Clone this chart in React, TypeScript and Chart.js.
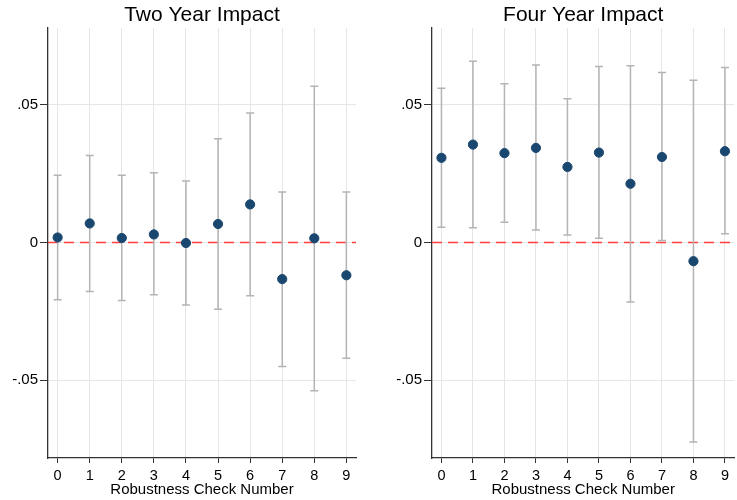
import React, { useEffect, useRef } from 'react';
import { Chart, registerables } from 'chart.js';

Chart.register(...registerables);

// ---- data ----
const checks = [0, 1, 2, 3, 4, 5, 6, 7, 8, 9];
const yTicks = [-0.05, 0, 0.05];
const xAxisTitle = 'Robustness Check Number';

const twoYearTitle = 'Two Year Impact';
const twoYearEst = [0.0018, 0.0069, 0.0016, 0.0029, -0.0002, 0.0067, 0.0138, -0.0133, 0.0015, -0.0119];
const twoYearLo = [-0.0208, -0.0178, -0.0211, -0.019, -0.0227, -0.0242, -0.0193, -0.045, -0.0538, -0.042];
const twoYearHi = [0.0244, 0.0315, 0.0244, 0.0253, 0.0223, 0.0376, 0.047, 0.0183, 0.0567, 0.0183];

const fourYearTitle = 'Four Year Impact';
const fourYearEst = [0.0307, 0.0355, 0.0324, 0.0343, 0.0274, 0.0326, 0.0213, 0.031, -0.0068, 0.0331];
const fourYearLo = [0.0055, 0.0053, 0.0073, 0.0045, 0.0027, 0.0015, -0.0216, 0.0007, -0.0724, 0.0032];
const fourYearHi = [0.0559, 0.0657, 0.0576, 0.0644, 0.0521, 0.0638, 0.0641, 0.0617, 0.0588, 0.0635];

const FONT = "'Liberation Sans', Arial, Helvetica, sans-serif";

function fmtTick(v: number): string {
  if (v === 0) return '0';
  const s = String(Math.abs(v)).replace(/^0/, '');
  return (v < 0 ? '-' : '') + s;
}

type PanelProps = {
  title: string;
  est: number[];
  lo: number[];
  hi: number[];
  left: number;
  yAxisWidth: number;
  padRight: number;
};

function Panel({ title, est, lo, hi, left, yAxisWidth, padRight }: PanelProps) {
  const ref = useRef<HTMLCanvasElement | null>(null);

  useEffect(() => {
    const canvas = ref.current;
    if (!canvas) return;

    const decor = {
      id: 'decor',
      beforeDatasetsDraw(chart: any) {
        const { ctx, chartArea } = chart;
        const xs = chart.scales.x;
        const ys = chart.scales.y;
        ctx.save();
        // zero reference line
        const y0 = ys.getPixelForValue(0);
        ctx.strokeStyle = '#ff4040';
        ctx.lineWidth = 1.6;
        ctx.setLineDash([10, 6]);
        ctx.beginPath();
        ctx.moveTo(chartArea.left, y0);
        ctx.lineTo(chartArea.right, y0);
        ctx.stroke();
        ctx.setLineDash([]);
        // error bars
        ctx.strokeStyle = '#b4b4b4';
        ctx.lineWidth = 1.5;
        checks.forEach((c, i) => {
          const x = xs.getPixelForValue(c);
          const yl = ys.getPixelForValue(lo[i]);
          const yh = ys.getPixelForValue(hi[i]);
          ctx.beginPath();
          ctx.moveTo(x, yl);
          ctx.lineTo(x, yh);
          ctx.moveTo(x - 4, yl);
          ctx.lineTo(x + 4, yl);
          ctx.moveTo(x - 4, yh);
          ctx.lineTo(x + 4, yh);
          ctx.stroke();
        });
        ctx.restore();
      },
      afterDraw(chart: any) {
        const { ctx, chartArea } = chart;
        ctx.save();
        ctx.fillStyle = '#000';
        ctx.font = `21px ${FONT}`;
        ctx.textAlign = 'center';
        ctx.textBaseline = 'middle';
        ctx.fillText(title, (chartArea.left + chartArea.right) / 2, 15);
        ctx.restore();
      },
    };

    const chart = new Chart(canvas, {
      type: 'scatter',
      data: {
        datasets: [
          {
            data: checks.map((c, i) => ({ x: c, y: est[i] })),
            backgroundColor: '#1a476f',
            borderColor: '#1a476f',
            pointRadius: 4.6,
            pointHoverRadius: 4.6,
            showLine: false,
          },
        ],
      },
      options: {
        responsive: false,
        animation: false,
        events: [],
        layout: { padding: { top: 28, right: padRight, left: 0, bottom: 0 } },
        plugins: {
          legend: { display: false },
          tooltip: { enabled: false },
          title: { display: false },
        },
        scales: {
          x: {
            type: 'linear',
            min: -0.3,
            max: 9.3,
            afterBuildTicks: (s: any) => {
              s.ticks = checks.map((v) => ({ value: v }));
            },
            afterFit: (s: any) => {
              s.height = 42;
            },
            grid: { color: '#e6e6e6', lineWidth: 1, tickLength: 5, tickColor: '#333', drawTicks: true },
            border: { display: true, color: '#333', width: 1.3 },
            ticks: {
              color: '#000',
              font: { family: FONT, size: 14.5 },
              padding: 4,
              autoSkip: false,
              maxRotation: 0,
              callback: (v: any) => String(v),
            },
            title: {
              display: true,
              text: xAxisTitle,
              color: '#000',
              font: { family: FONT, size: 15 },
              padding: { top: 0, bottom: 1 },
            },
          },
          y: {
            type: 'linear',
            min: -0.0782,
            max: 0.0778,
            afterBuildTicks: (s: any) => {
              s.ticks = yTicks.map((v) => ({ value: v }));
            },
            afterFit: (s: any) => {
              s.width = yAxisWidth;
            },
            grid: { color: '#e6e6e6', lineWidth: 1, tickLength: 8, tickColor: '#333', drawTicks: true },
            border: { display: true, color: '#333', width: 1.3 },
            ticks: {
              color: '#000',
              font: { family: FONT, size: 15 },
              padding: 2,
              callback: (v: any) => fmtTick(Number(v)),
            },
          },
        },
      } as any,
      plugins: [decor],
    });

    return () => chart.destroy();
  }, [title, est, lo, hi, yAxisWidth, padRight]);

  return (
    <canvas
      ref={ref}
      width={370}
      height={500}
      style={{ position: 'absolute', left, top: 0, width: 370, height: 500 }}
    />
  );
}

export default function App() {
  return (
    <div
      style={{
        position: 'absolute',
        left: 0,
        top: 0,
        width: 737,
        height: 500,
        overflow: 'hidden',
        background: '#fff',
      }}
    >
      <Panel title={twoYearTitle} est={twoYearEst} lo={twoYearLo} hi={twoYearHi} left={0} yAxisWidth={48} padRight={14} />
      <Panel title={fourYearTitle} est={fourYearEst} lo={fourYearLo} hi={fourYearHi} left={370} yAxisWidth={62} padRight={0} />
    </div>
  );
}
